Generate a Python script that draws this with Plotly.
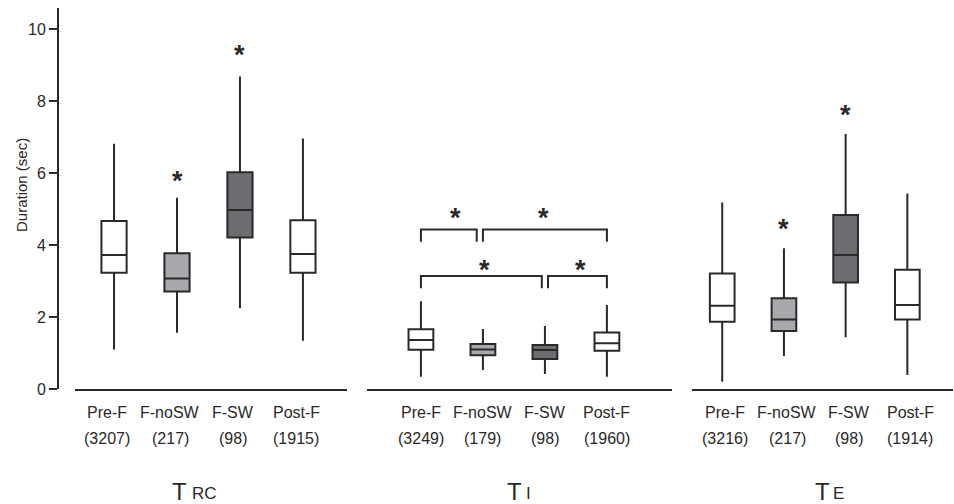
import plotly.graph_objects as go

W, H = 954, 504

categories = ["Pre-F", "F-noSW", "F-SW", "Post-F"]
positions = [0, 1, 2, 3]

# counts (n) under each category
trc_counts = ["(3207)", "(217)", "(98)", "(1915)"]
ti_counts = ["(3249)", "(179)", "(98)", "(1960)"]
te_counts = ["(3216)", "(217)", "(98)", "(1914)"]

# T_RC box stats
trc_low = [1.10, 1.56, 2.24, 1.34]
trc_q1 = [3.23, 2.71, 4.21, 3.23]
trc_med = [3.72, 3.07, 4.97, 3.75]
trc_q3 = [4.67, 3.77, 6.02, 4.69]
trc_high = [6.81, 5.31, 8.68, 6.96]

# T_I box stats
ti_low = [0.34, 0.53, 0.42, 0.34]
ti_q1 = [1.09, 0.94, 0.83, 1.06]
ti_med = [1.36, 1.10, 1.08, 1.27]
ti_q3 = [1.66, 1.25, 1.22, 1.57]
ti_high = [2.44, 1.67, 1.75, 2.33]

# T_E box stats
te_low = [0.20, 0.92, 1.44, 0.39]
te_q1 = [1.87, 1.61, 2.96, 1.93]
te_med = [2.31, 1.93, 3.72, 2.33]
te_q3 = [3.21, 2.52, 4.83, 3.31]
te_high = [5.18, 3.91, 7.08, 5.43]

# significance stars
trc_star_x = [1, 2]
trc_star_y = [5.86, 9.37]
ti_star_x = [0.56, 1.97, 1.02, 2.58]
ti_star_y = [4.83, 4.83, 3.40, 3.40]
te_star_x = [1, 2]
te_star_y = [4.53, 7.70]

# comparison brackets in T_I panel
ti_bracket_left = [0.0, 1.0, 0.0, 2.05]
ti_bracket_right = [0.9, 3.0, 1.95, 3.0]
ti_bracket_top = [4.43, 4.43, 3.14, 3.14]
ti_bracket_bottom = [4.09, 4.09, 2.80, 2.80]

titles = [("T", "RC"), ("T", "I"), ("T", "E")]
yticks = [0, 2, 4, 6, 8, 10]

fills = ["#ffffff", "#a7a9ac", "#6b6d70", "#ffffff"]
LINE = "#2b2829"
TXT = "#2b2829"
FONT = "Liberation Sans, Arial, sans-serif"

def px_x(p):
    return p / W

def px_y(p):
    return (389 - p) / 381.0

panels = [
    dict(ax="x", dom=(75, 347), rng=(-0.62, 3.70), low=trc_low, q1=trc_q1, med=trc_med, q3=trc_q3,
         high=trc_high, counts=trc_counts, sx=trc_star_x, sy=trc_star_y, lbl_off=-0.11,
         tpos=189, spos=190),
    dict(ax="x2", dom=(367, 672), rng=(-0.87, 4.05), low=ti_low, q1=ti_q1, med=ti_med, q3=ti_q3,
         high=ti_high, counts=ti_counts, sx=ti_star_x, sy=ti_star_y, lbl_off=0.0,
         tpos=524, spos=524),
    dict(ax="x3", dom=(692, 953), rng=(-0.49, 3.74), low=te_low, q1=te_q1, med=te_med, q3=te_q3,
         high=te_high, counts=te_counts, sx=te_star_x, sy=te_star_y, lbl_off=0.05,
         tpos=832, spos=831),
]

fig = go.Figure()
annotations = []

for i, p in enumerate(panels):
    for j, pos in enumerate(positions):
        fig.add_trace(go.Box(
            x=[pos], q1=[p["q1"][j]], median=[p["med"][j]], q3=[p["q3"][j]],
            lowerfence=[p["low"][j]], upperfence=[p["high"][j]],
            width=0.4, whiskerwidth=0, fillcolor=fills[j],
            line=dict(color=LINE, width=2), boxpoints=False,
            xaxis=p["ax"], yaxis="y", showlegend=False, hoverinfo="skip",
        ))
    for sx, sy in zip(p["sx"], p["sy"]):
        annotations.append(dict(x=sx, y=sy, xref=p["ax"], yref="y", text="<b>*</b>", showarrow=False,
                                xanchor="center", yanchor="middle",
                                font=dict(size=27, color=TXT, family=FONT), yshift=-3))
    for j, pos in enumerate(positions):
        annotations.append(dict(x=pos + p["lbl_off"], y=px_y(412), xref=p["ax"], yref="paper",
                                text=categories[j], showarrow=False, xanchor="center", yanchor="middle",
                                font=dict(size=16, color=TXT, family=FONT)))
        annotations.append(dict(x=pos + p["lbl_off"], y=px_y(438), xref=p["ax"], yref="paper",
                                text=p["counts"][j], showarrow=False, xanchor="center", yanchor="middle",
                                font=dict(size=16, color=TXT, family=FONT)))
    big, sub = titles[i]
    annotations.append(dict(x=px_x(p["tpos"]), y=px_y(491), xref="paper", yref="paper", text=big,
                            showarrow=False, xanchor="right", yanchor="middle",
                            font=dict(size=24, color=TXT, family=FONT)))
    annotations.append(dict(x=px_x(p["spos"]), y=px_y(493), xref="paper", yref="paper", text=sub,
                            showarrow=False, xanchor="left", yanchor="middle",
                            font=dict(size=17, color=TXT, family=FONT)))

# brackets
for l, r, t, b in zip(ti_bracket_left, ti_bracket_right, ti_bracket_top, ti_bracket_bottom):
    fig.add_trace(go.Scatter(x=[l, l, r, r], y=[b, t, t, b], mode="lines",
                             line=dict(color=LINE, width=2), xaxis="x2", yaxis="y",
                             showlegend=False, hoverinfo="skip"))

annotations.append(dict(x=px_x(22), y=px_y(185), xref="paper", yref="paper", text="Duration (sec)",
                        textangle=-90, showarrow=False, xanchor="center", yanchor="middle",
                        font=dict(size=15, color=TXT, family=FONT)))

xcommon = dict(showline=True, linewidth=2, linecolor=LINE, showgrid=False, zeroline=False,
               ticks="", showticklabels=False, anchor="y", fixedrange=True)

layout = dict(
    width=W, height=H,
    margin=dict(l=0, r=0, t=8, b=H - 389),
    plot_bgcolor="white", paper_bgcolor="white",
    boxmode="overlay", showlegend=False,
    font=dict(family=FONT, color=TXT),
    yaxis=dict(range=[0, 381 / 36.0], anchor="free", position=58 / W, showline=True, linewidth=2,
               linecolor=LINE, showgrid=False, zeroline=False, ticks="outside", ticklen=8, tickwidth=2,
               tickcolor=LINE, tickvals=yticks, tickfont=dict(size=16, color=TXT, family=FONT),
               fixedrange=True),
    annotations=annotations,
)
for i, p in enumerate(panels):
    key = "xaxis" if i == 0 else f"xaxis{i+1}"
    layout[key] = dict(xcommon, domain=[p["dom"][0] / W, p["dom"][1] / W], range=list(p["rng"]))

fig.update_layout(**layout)
fig.write_html("out.html", config={"displayModeBar": False},
               post_script="document.body.style.margin='0';document.body.style.overflow='hidden';")
